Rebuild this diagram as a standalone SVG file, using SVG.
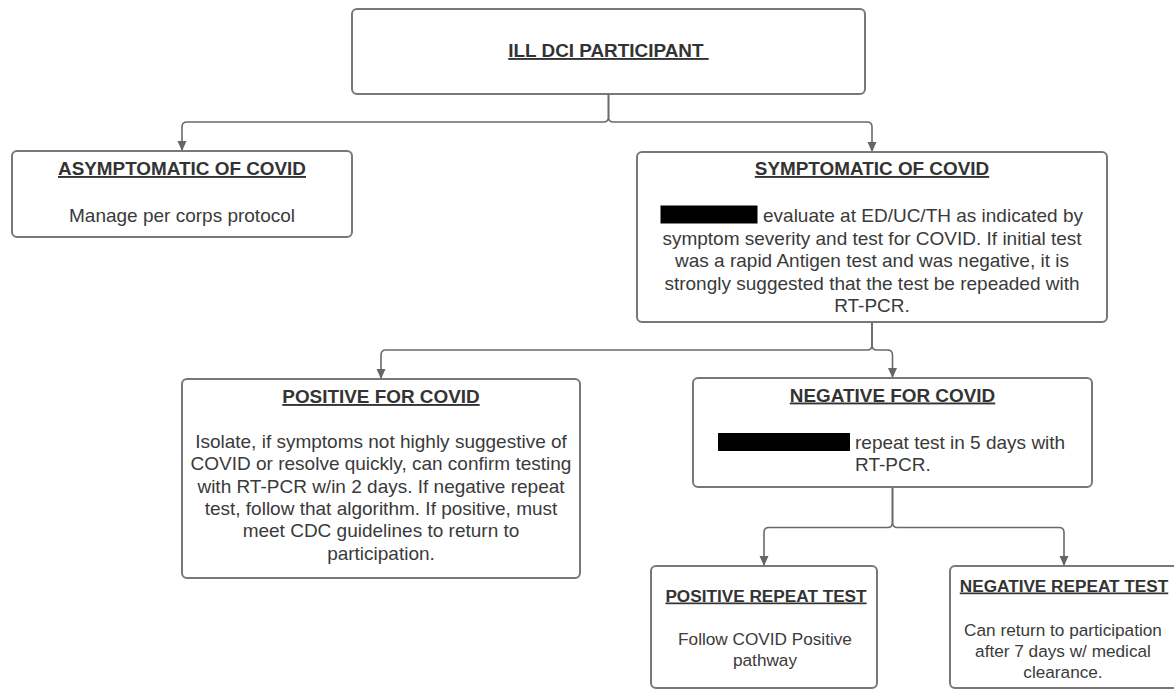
<svg xmlns="http://www.w3.org/2000/svg" width="1174" height="690" viewBox="0 0 1174 690">
<defs>
<marker id="arr" markerUnits="userSpaceOnUse" markerWidth="10" markerHeight="11" refX="10" refY="4.5" orient="auto">
<path d="M0,0 L10,4.5 L0,9 z" fill="#666"/>
</marker>
<style>
.box{fill:#fff;stroke:#787878;stroke-width:2}
.con{fill:none;stroke:#6a6a6a;stroke-width:1.6}
.t{font-family:"Liberation Sans",Arial,sans-serif;font-size:18.9px;font-weight:bold;fill:#333;text-anchor:middle;text-decoration:underline}
.b{font-family:"Liberation Sans",Arial,sans-serif;font-size:19px;fill:#3a3a3a;text-anchor:middle}
.sm{font-size:17.2px}
.s{text-anchor:start}
.red{fill:#000}
</style>
</defs>
<rect width="1174" height="690" fill="#fff"/>
<g id="connectors">
<path class="con" d="M608.5,94 V117 Q608.5,122 603.5,122 H187 Q182,122 182,127 V151" marker-end="url(#arr)"/>
<path class="con" d="M608.5,94 V117 Q608.5,122 613.5,122 H867 Q872,122 872,127 V152" marker-end="url(#arr)"/>
<path class="con" d="M872,322 V345 Q872,350 867,350 H386 Q381,350 381,355 V379" marker-end="url(#arr)"/>
<path class="con" d="M872,322 V345 Q872,350 877,350 H887.5 Q892.5,350 892.5,355 V378" marker-end="url(#arr)"/>
<path class="con" d="M892.5,487 V522.5 Q892.5,527.5 887.5,527.5 H769 Q764,527.5 764,532.5 V566" marker-end="url(#arr)"/>
<path class="con" d="M892.5,487 V522.5 Q892.5,527.5 897.5,527.5 H1059 Q1064,527.5 1064,532.5 V566" marker-end="url(#arr)"/>
</g>
<g id="ill-dci-participant">
<rect class="box" x="352" y="9" width="513" height="85" rx="5"/>
<text class="t" x="608.5" y="57" xml:space="preserve">ILL DCI PARTICIPANT </text>
</g>
<g id="asymptomatic">
<rect class="box" x="12" y="151" width="340" height="86" rx="5"/>
<text class="t" x="182" y="175">ASYMPTOMATIC OF COVID</text>
<text class="b" x="182" y="222">Manage per corps protocol</text>
</g>
<g id="symptomatic">
<rect class="box" x="637" y="152" width="470" height="170" rx="5"/>
<text class="t" x="872" y="175">SYMPTOMATIC OF COVID</text>
<rect class="red" x="660.5" y="205.5" width="97" height="18"/>
<text class="b s" x="763" y="222">evaluate at ED/UC/TH as indicated by</text>
<text class="b" x="872" y="244.5">symptom severity and test for COVID. If initial test</text>
<text class="b" x="872" y="267">was a rapid Antigen test and was negative, it is</text>
<text class="b" x="872" y="289.5">strongly suggested that the test be repeaded with</text>
<text class="b" x="872" y="312">RT-PCR.</text>
</g>
<g id="positive">
<rect class="box" x="182" y="379" width="398" height="199" rx="5"/>
<text class="t" x="381" y="403">POSITIVE FOR COVID</text>
<text class="b" x="381" y="448">Isolate, if symptoms not highly suggestive of</text>
<text class="b" x="381" y="470.3">COVID or resolve quickly, can confirm testing</text>
<text class="b" x="381" y="492.6">with RT-PCR w/in 2 days. If negative repeat</text>
<text class="b" x="381" y="514.9">test, follow that algorithm. If positive, must</text>
<text class="b" x="381" y="537.2">meet CDC guidelines to return to</text>
<text class="b" x="381" y="559.5">participation.</text>
</g>
<g id="negative">
<rect class="box" x="693" y="378" width="399" height="109" rx="5"/>
<text class="t" x="892.5" y="401.5">NEGATIVE FOR COVID</text>
<rect class="red" x="718" y="433" width="132" height="18"/>
<text class="b s" x="855" y="448.5">repeat test in 5 days with</text>
<text class="b s" x="855" y="471">RT-PCR.</text>
</g>
<g id="positive-repeat">
<rect class="box" x="651" y="566" width="226" height="122" rx="5"/>
<text class="t sm" x="766" y="601.5">POSITIVE REPEAT TEST</text>
<text class="b sm" x="765" y="644.5">Follow COVID Positive</text>
<text class="b sm" x="765" y="665.5">pathway</text>
</g>
<g id="negative-repeat">
<rect class="box" x="950" y="566" width="228" height="122" rx="5"/>
<text class="t sm" x="1064" y="591.5">NEGATIVE REPEAT TEST</text>
<text class="b sm" x="1063" y="636">Can return to participation</text>
<text class="b sm" x="1063" y="657">after 7 days w/ medical</text>
<text class="b sm" x="1063" y="678">clearance.</text>
</g>
</svg>
